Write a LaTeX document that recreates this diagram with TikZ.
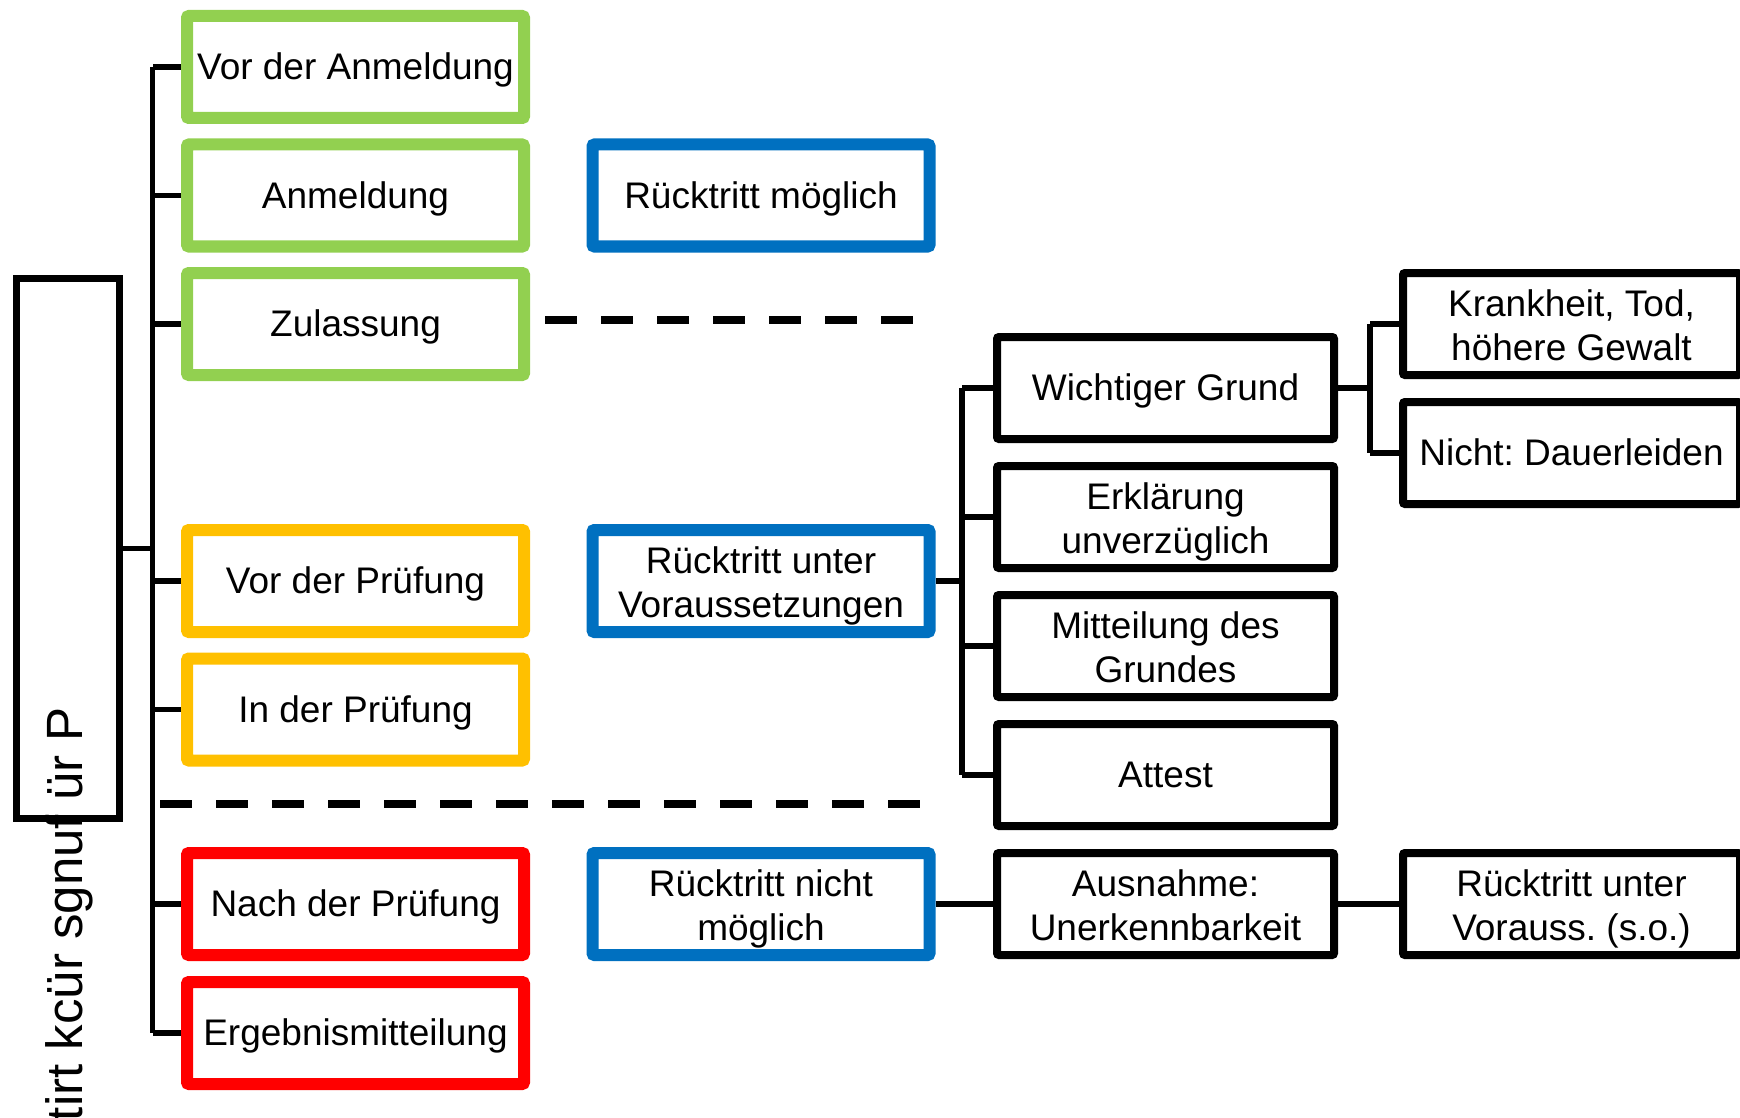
\documentclass[tikz,border=0pt]{standalone}
\usepackage{fontspec}
\setmainfont{Liberation Sans}
\frenchspacing
\newcommand{\boxfont}{\fontsize{37}{44}\selectfont}
\newcommand{\boxstrut}{\rule[-7.8pt]{0pt}{41.3pt}}
\newcommand{\twolines}[2]{\begin{tabular}{@{}c@{}}#1\\#2\end{tabular}}
\definecolor{cgreen}{HTML}{92D050}
\definecolor{cblue}{HTML}{0070C0}
\definecolor{cyellow}{HTML}{FFC000}
\definecolor{cred}{HTML}{FF0000}
\tikzset{
  box/.style={draw, fill=white, minimum width=337pt, minimum height=102pt, inner sep=0pt,
    align=center, font=\boxfont, rounded corners=2pt,
    execute at begin node=\boxstrut, execute at end node=\boxstrut},
  twoline/.style={text height=57.5pt, text depth=33pt},
  gbox/.style={box, draw=cgreen, line width=12pt},
  bbox/.style={box, draw=cblue, line width=12pt},
  ybox/.style={box, draw=cyellow, line width=12pt},
  rbox/.style={box, draw=cred, line width=12pt},
  kbox/.style={box, draw=black, line width=8pt},
  conn/.style={draw=black, line width=5.5pt},
  sep/.style={draw=black, line width=8pt, dash pattern=on 32pt off 24pt},
}
\begin{document}
\begin{tikzpicture}[x=1pt,y=-1pt]
\useasboundingbox (0,0) rectangle (1740,1118);
\clip (0,0) rectangle (1740,1118);
% left title box
\node[draw=black, line width=7pt, minimum width=103pt, minimum height=540pt, inner sep=0pt] (title) at (67.5,548.5) {};
\node[rotate=90, anchor=base east, inner sep=0pt, font=\fontsize{51}{56}\selectfont] (titletext) at (82,707) {ttirt kcür sgnuf ür P};
% column 1
\node[gbox] (vor) at (355.5,67) {Vor der Anmeldung};
\node[gbox] (anm) at (355.5,195.5) {Anmeldung};
\node[gbox] (zul) at (355.5,324) {Zulassung};
\node[ybox] (vpr) at (355.5,581) {Vor der Prüfung};
\node[ybox] (ipr) at (355.5,709.5) {In der Prüfung};
\node[rbox] (npr) at (355.5,904) {Nach der Prüfung};
\node[rbox] (erg) at (355.5,1033) {Ergebnismitteilung};
% column 2
\node[bbox] (rm) at (761,195.5) {Rücktritt möglich};
\node[bbox, twoline] (ruv) at (761,581) {\twolines{Rücktritt unter}{Voraussetzungen}};
\node[bbox, twoline] (rnm) at (761,904) {\twolines{Rücktritt nicht}{möglich}};
% column 3
\node[kbox] (wg) at (1165.5,388) {Wichtiger Grund};
\node[kbox, twoline] (eu) at (1165.5,517) {\twolines{Erklärung}{unverzüglich}};
\node[kbox, twoline] (mg) at (1165.5,646) {\twolines{Mitteilung des}{Grundes}};
\node[kbox] (att) at (1165.5,775) {Attest};
\node[kbox, twoline] (aus) at (1165.5,904) {\twolines{Ausnahme:}{Unerkennbarkeit}};
% column 4
\node[kbox, twoline] (kt) at (1571.5,324) {\twolines{Krankheit, Tod,}{höhere Gewalt}};
\node[kbox] (nd) at (1571.5,453) {Nicht: Dauerleiden};
\node[kbox, twoline] (rvs) at (1571.5,904) {\twolines{Rücktritt unter}{Vorauss. (s.o.)}};
% junction coordinates
\coordinate (trunk) at (152.5,0);
\coordinate (j2) at (962,0);
\coordinate (j3) at (1370,0);
% connectors
\draw[conn] (title.east) -- (title.east -| trunk);
\draw[conn] (vor.west -| trunk) -- (erg.west -| trunk);
\foreach \n in {vor,anm,zul,vpr,ipr,npr,erg} {\draw[conn] (\n.west) -- (\n.west -| trunk);}
\draw[conn] (ruv.east) -- (ruv.east -| j2);
\draw[conn] (wg.west -| j2) -- (att.west -| j2);
\foreach \n in {wg,eu,mg,att} {\draw[conn] (\n.west) -- (\n.west -| j2);}
\draw[conn] (wg.east) -- (wg.east -| j3);
\draw[conn] (kt.west -| j3) -- (nd.west -| j3);
\foreach \n in {kt,nd} {\draw[conn] (\n.west) -- (\n.west -| j3);}
\draw[conn] (rnm.east) -- (aus.west);
\draw[conn] (aus.east) -- (rvs.west);
% separators
\draw[sep] (545,320) -- (913,320);
\draw[sep] (160,804) -- (920,804);
\end{tikzpicture}
\end{document}
